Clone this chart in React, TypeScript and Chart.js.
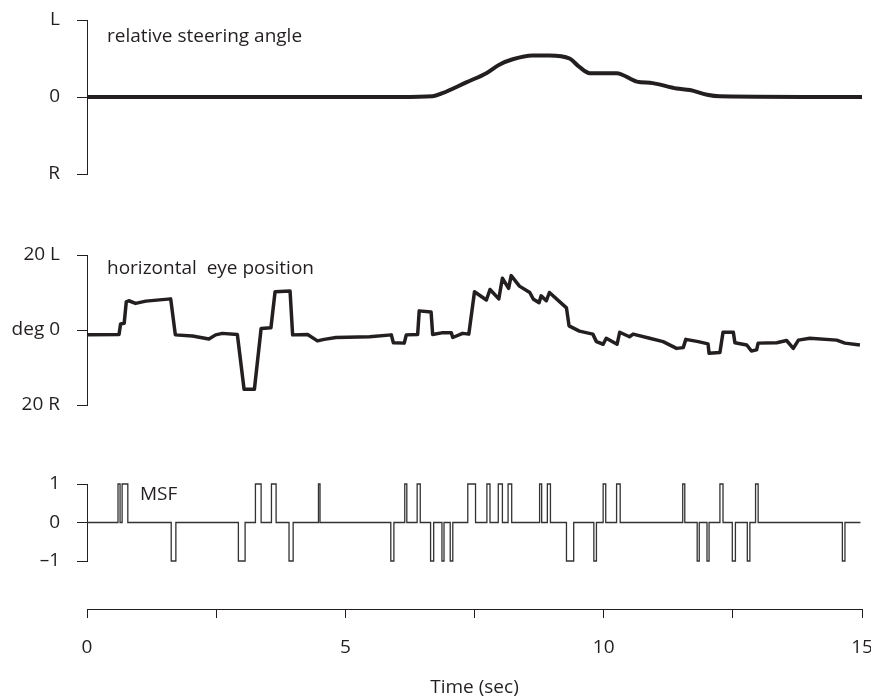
import React, { useEffect, useRef } from "react";
import { Chart, registerables } from "chart.js";

Chart.register(...registerables);

const INK = "#231f20";
const FONT = '"Open Sans", "Noto Sans", sans-serif';
const FS = 19;

// Relative steering angle (L = +1, R = -1)
const steerTime = [0, 6.05, 6.69, 6.88, 7.34, 7.73, 7.98, 8.24, 8.62, 8.95, 9.34, 9.53, 9.73, 9.98, 10.25, 10.64, 10.95, 11.41, 11.67, 12.0, 12.25, 15];
const steerValue = [0, 0, 0.01, 0.05, 0.19, 0.31, 0.42, 0.49, 0.54, 0.54, 0.5, 0.39, 0.31, 0.31, 0.31, 0.2, 0.18, 0.11, 0.09, 0.03, 0.01, 0.0];

// Horizontal eye position (deg, + = L)
const eyeTime = [0, 0.62, 0.65, 0.72, 0.76, 0.81, 0.94, 1.14, 1.62, 1.71, 2.04, 2.36, 2.49, 2.62, 2.91, 3.04, 3.24, 3.37, 3.56, 3.64, 3.93, 3.98, 4.27, 4.46, 4.59, 4.82, 5.47, 5.89, 5.93, 6.14, 6.18, 6.4, 6.43, 6.66, 6.69, 6.89, 7.05, 7.08, 7.27, 7.39, 7.5, 7.73, 7.8, 7.97, 8.04, 8.16, 8.21, 8.37, 8.57, 8.64, 8.75, 8.79, 8.89, 8.95, 9.28, 9.33, 9.53, 9.79, 9.86, 9.99, 10.05, 10.26, 10.31, 10.5, 10.57, 10.89, 11.15, 11.41, 11.54, 11.59, 11.83, 12.02, 12.04, 12.25, 12.31, 12.51, 12.54, 12.77, 12.86, 12.96, 12.99, 13.35, 13.54, 13.67, 13.77, 13.99, 14.51, 14.67, 14.96];
const eyeValue = [-1.3, -1.2, 1.6, 1.8, 7.5, 7.8, 7.1, 7.7, 8.3, -1.3, -1.6, -2.4, -1.3, -0.9, -1.2, -15.8, -15.8, 0.4, 0.6, 10.2, 10.4, -1.3, -1.2, -2.9, -2.5, -2.0, -1.8, -1.3, -3.4, -3.5, -1.3, -1.2, 5.1, 4.8, -1.2, -0.7, -0.7, -2.0, -0.9, -1.1, 10.2, 8.0, 10.8, 8.3, 13.8, 11.1, 14.5, 11.7, 10.0, 8.2, 7.3, 9.1, 7.8, 10.0, 5.9, 1.1, -0.3, -1.1, -3.1, -3.8, -2.2, -3.8, -0.6, -1.8, -1.1, -2.2, -3.1, -4.9, -4.7, -2.5, -3.1, -3.7, -6.2, -6.0, -0.6, -0.6, -3.4, -4.0, -5.6, -5.3, -3.5, -3.4, -2.8, -4.9, -2.7, -2.2, -2.7, -3.5, -4.0];

// Microsaccade flags (MSF): pulse start, end and direction
const msfStart = [0.6, 0.68, 1.63, 2.93, 3.26, 3.57, 3.91, 4.48, 5.88, 6.15, 6.39, 6.65, 6.87, 7.03, 7.37, 7.74, 7.96, 8.15, 8.76, 8.91, 9.28, 9.81, 9.99, 10.25, 11.53, 11.81, 12.0, 12.25, 12.49, 12.78, 12.94, 14.62];
const msfEnd = [0.64, 0.79, 1.72, 3.06, 3.37, 3.66, 3.99, 4.51, 5.94, 6.19, 6.45, 6.71, 6.91, 7.08, 7.52, 7.8, 8.04, 8.22, 8.8, 8.97, 9.42, 9.86, 10.04, 10.32, 11.57, 11.85, 12.04, 12.31, 12.55, 12.83, 12.99, 14.67];
const msfSign = [1, 1, -1, -1, 1, 1, -1, 1, -1, 1, 1, -1, -1, -1, 1, 1, 1, 1, 1, 1, -1, -1, 1, 1, 1, -1, -1, 1, -1, -1, 1, -1];
const msfEndTime = 14.97;

const steerTickLabels: Record<string, string> = { "1": "L", "0": "0", "-1": "R" };
const eyeTickLabels: Record<string, string> = { "20": "20 L", "0": "deg 0", "-20": "20 R" };
const msfTickLabels: Record<string, string> = { "1": "1", "0": "0", "-1": "\u20131" };
const timeTickLabels: Record<string, string> = { "0": "0", "5": "5", "10": "10", "15": "15" };

const LEFT = 87;
const RIGHT_PAD = 9;

function yScale(min: number, max: number, labels: Record<string, string>) {
  const vals = Object.keys(labels).map(Number).sort((a, b) => a - b);
  return {
    type: "linear" as const,
    min,
    max,
    afterBuildTicks: (s: any) => {
      s.ticks = vals.map((v) => ({ value: v }));
    },
    afterFit: (s: any) => {
      s.width = LEFT;
      s.paddingTop = 0;
      s.paddingBottom = 0;
    },
    border: { display: true, color: INK, width: 1 },
    grid: { drawOnChartArea: false, drawTicks: true, tickLength: 10, color: INK, lineWidth: 1 },
    ticks: {
      padding: 17,
      color: INK,
      font: { family: FONT, size: FS },
      callback: (v: any) => labels[String(v)] ?? "",
    },
  };
}

const xHidden = { type: "linear" as const, min: 0, max: 15, display: false };

function notePlugin(text: string, x: number, y: number) {
  return {
    id: "note",
    afterDraw(chart: any) {
      const ctx = chart.ctx;
      ctx.save();
      ctx.font = `${FS}px ${FONT}`;
      ctx.fillStyle = INK;
      ctx.textBaseline = "alphabetic";
      ctx.textAlign = "left";
      ctx.fillText(text, x, y);
      ctx.restore();
    },
  };
}

const PANELS = {
  steer: { top: 0, height: 194, padTop: 20, padBottom: 20 },
  eye: { top: 235, height: 190, padTop: 20, padBottom: 20 },
  msf: { top: 464, height: 117, padTop: 20, padBottom: 20 },
  axis: { top: 581, height: 118 },
};

export default function App() {
  const r1 = useRef<HTMLCanvasElement>(null);
  const r2 = useRef<HTMLCanvasElement>(null);
  const r3 = useRef<HTMLCanvasElement>(null);
  const r4 = useRef<HTMLCanvasElement>(null);

  useEffect(() => {
    const charts: Chart[] = [];
    const base = {
      animation: false as const,
      responsive: false,
      maintainAspectRatio: false,
      plugins: { legend: { display: false }, tooltip: { enabled: false }, title: { display: false } },
    };

    const steerData = steerTime.map((t, i) => ({ x: t, y: steerValue[i] }));
    charts.push(
      new Chart(r1.current!, {
        type: "line",
        data: {
          datasets: [
            {
              data: steerData,
              borderColor: INK,
              borderWidth: 4,
              pointRadius: 0,
              tension: 0.4,
              cubicInterpolationMode: "monotone",
              fill: false,
            },
          ],
        },
        options: {
          ...base,
          layout: { padding: { left: 0, right: RIGHT_PAD, top: PANELS.steer.padTop, bottom: PANELS.steer.padBottom } },
          scales: { x: xHidden, y: yScale(-1, 1, steerTickLabels) },
        },
        plugins: [notePlugin("relative steering angle", 107, 42 - PANELS.steer.top)],
      } as any)
    );

    const eyeData = eyeTime.map((t, i) => ({ x: t, y: eyeValue[i] }));
    charts.push(
      new Chart(r2.current!, {
        type: "line",
        data: {
          datasets: [
            {
              data: eyeData,
              borderColor: INK,
              borderWidth: 3.5,
              pointRadius: 0,
              tension: 0,
              borderJoinStyle: "round",
              fill: false,
            },
          ],
        },
        options: {
          ...base,
          layout: { padding: { left: 0, right: RIGHT_PAD, top: PANELS.eye.padTop, bottom: PANELS.eye.padBottom } },
          scales: { x: xHidden, y: yScale(-20, 20, eyeTickLabels) },
        },
        plugins: [notePlugin("horizontal  eye position", 107, 274 - PANELS.eye.top)],
      } as any)
    );

    const msfData: { x: number; y: number }[] = [{ x: 0, y: 0 }];
    msfStart.forEach((s, i) => {
      msfData.push({ x: s, y: 0 }, { x: s, y: msfSign[i] }, { x: msfEnd[i], y: msfSign[i] }, { x: msfEnd[i], y: 0 });
    });
    msfData.push({ x: msfEndTime, y: 0 });
    charts.push(
      new Chart(r3.current!, {
        type: "line",
        data: {
          datasets: [
            {
              data: msfData,
              borderColor: "#333333",
              borderWidth: 1.3,
              pointRadius: 0,
              tension: 0,
              fill: false,
              clip: false,
            },
          ],
        },
        options: {
          ...base,
          layout: { padding: { left: 0, right: RIGHT_PAD, top: PANELS.msf.padTop, bottom: PANELS.msf.padBottom } },
          scales: { x: xHidden, y: yScale(-1, 1, msfTickLabels) },
        },
        plugins: [notePlugin("MSF", 140, 500 - PANELS.msf.top)],
      } as any)
    );

    charts.push(
      new Chart(r4.current!, {
        type: "line",
        data: { datasets: [] },
        options: {
          ...base,
          layout: { padding: { left: LEFT, right: RIGHT_PAD, top: 0, bottom: 0 } },
          scales: {
            x: {
              type: "linear",
              min: 0,
              max: 15,
              afterBuildTicks: (s: any) => {
                const t: any[] = [];
                for (let v = 0; v <= 15; v += 2.5) t.push({ value: v });
                s.ticks = t;
              },
              afterFit: (s: any) => {
                s.height = 90;
                s.paddingLeft = 0;
                s.paddingRight = 0;
              },
              border: { display: true, color: INK, width: 1 },
              grid: { drawOnChartArea: false, drawTicks: true, tickLength: 9, color: INK, lineWidth: 1 },
              ticks: {
                padding: 18,
                maxRotation: 0,
                autoSkip: false,
                color: INK,
                font: { family: FONT, size: FS },
                callback: (v: any) => timeTickLabels[String(v)] ?? "",
              },
              title: {
                display: true,
                text: "Time (sec)",
                color: INK,
                font: { family: FONT, size: FS },
                padding: { top: 0, bottom: 0 },
              },
            },
            y: { display: false, min: 0, max: 1 },
          },
        },
      } as any)
    );

    return () => charts.forEach((c) => c.destroy());
  }, []);

  const cv = (ref: any, p: { top: number; height: number }) => (
    <canvas
      ref={ref}
      width={871}
      height={p.height}
      style={{ position: "absolute", left: 0, top: p.top, width: 871, height: p.height, display: "block" }}
    />
  );

  return (
    <div style={{ position: "fixed", left: 0, top: 0, width: 871, height: 696, background: "#ffffff", overflow: "hidden" }}>
      {cv(r1, PANELS.steer)}
      {cv(r2, PANELS.eye)}
      {cv(r3, PANELS.msf)}
      {cv(r4, PANELS.axis)}
    </div>
  );
}
